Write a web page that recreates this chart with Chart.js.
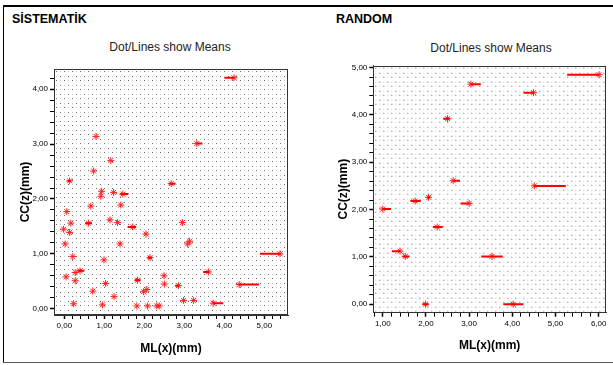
<!DOCTYPE html>
<html>
<head>
<meta charset="utf-8">
<script src="https://cdn.jsdelivr.net/npm/chart.js@4.4.1/dist/chart.umd.min.js"></script>
<style>
body { margin: 0; background: #fff; font-family: 'Liberation Sans', Arial, sans-serif; }
#wrap { position: relative; width: 613px; height: 365px; overflow: hidden; background: #fff; }
.line { position: absolute; }
.ptitle { position: absolute; font-weight: bold; font-size: 12.5px; line-height: 1; white-space: nowrap; }
.sub { position: absolute; font-size: 12px; line-height: 1; white-space: nowrap; transform: translateX(-50%); color: #222; }
canvas { position: absolute; top: 0; }
</style>
</head>
<body>
<div id="wrap">
    <div class="line" style="left:3px;top:5px;width:610px;height:2px;background:#000"></div>
    <div class="line" style="left:3px;top:5px;width:1px;height:358px;background:#000"></div>
    <div class="line" style="left:3px;top:362px;width:610px;height:1px;background:#555"></div>

    <div class="ptitle" style="left:12px;top:13.4px">SİSTEMATİK</div>
    <div class="ptitle" style="left:336px;top:12.8px">RANDOM</div>
    <div class="sub" style="left:170px;top:40.5px">Dot/Lines show Means</div>
    <div class="sub" style="left:491px;top:42.3px">Dot/Lines show Means</div>

    <canvas id="sisChart" width="306" height="362" style="left:0"></canvas>
    <canvas id="rndChart" width="307" height="362" style="left:306px"></canvas>
</div>

<script>
// SİSTEMATİK: stars
const sisX = [0.93, 0.91, 1.23, 1.46, 1.41, 0.66, 0.06, 0.16, 0.60, -0.02, 0.13, 1.14, 1.33, 1.71, 2.04, 0.02, 1.39, 0.21, 0.99, 2.14,
    0.27, 0.39, 0.04, 0.27, 1.03, 1.83, 2.49, 2.50, 0.71, 1.24, 1.98, 2.06, 0.23, 0.95, 1.81, 2.08, 2.31, 2.37,
    0.79, 1.16, 0.73, 0.13, 2.67, 4.24, 3.31, 2.95, 3.08, 3.13, 5.39, 3.60, 2.85, 4.37, 2.98, 3.23, 3.72];
const sisY = [2.14, 2.05, 2.12, 2.09, 1.89, 1.87, 1.77, 1.56, 1.56, 1.45, 1.39, 1.62, 1.57, 1.49, 1.36, 1.18, 1.18, 0.95, 0.89, 0.93,
    0.66, 0.69, 0.58, 0.51, 0.46, 0.52, 0.60, 0.45, 0.32, 0.22, 0.31, 0.35, 0.09, 0.07, 0.05, 0.05, 0.05, 0.05,
    3.14, 2.70, 2.51, 2.33, 2.28, 4.21, 3.01, 1.57, 1.18, 1.23, 1.00, 0.67, 0.42, 0.44, 0.15, 0.15, 0.10];
// SİSTEMATİK: mean lines
const sisLineY    = [2.09, 1.56, 1.49, 0.93, 0.69, 0.52, 2.28, 4.21, 3.01, 1.00, 0.67, 0.42, 0.44, 0.10, 2.33];
const sisLineFrom = [1.40, 0.52, 1.58, 2.08, 0.33, 1.76, 2.62, 4.00, 3.31, 4.89, 3.47, 2.77, 4.37, 3.72, 0.08];
const sisLineTo   = [1.60, 0.69, 1.79, 2.19, 0.50, 1.90, 2.78, 4.24, 3.45, 5.39, 3.62, 2.87, 4.87, 3.97, 0.16];

// RANDOM: stars + mean lines
const rndX = [6.01, 3.04, 4.49, 2.50, 2.63, 4.51, 1.00, 1.75, 2.06, 3.00, 2.26, 1.40, 1.52, 3.53, 1.99, 4.02];
const rndY = [4.85, 4.65, 4.47, 3.92, 2.61, 2.50, 2.01, 2.18, 2.26, 2.13, 1.63, 1.12, 1.01, 1.01, 0.00, 0.00];
const rndLineFrom = [5.27, 3.04, 4.26, 2.40, 2.63, 4.51, 1.00, 1.64, 2.03, 2.80, 2.16, 1.21, 1.46, 3.28, 1.92, 3.79];
const rndLineTo   = [6.01, 3.27, 4.49, 2.55, 2.79, 5.24, 1.19, 1.88, 2.10, 3.00, 2.39, 1.40, 1.62, 3.78, 2.06, 4.26];

// tick labels
const sisXTicks = [0, 1, 2, 3, 4, 5];
const sisXLabels = ['0,00', '1,00', '2,00', '3,00', '4,00', '5,00'];
const sisYTicks = [0, 1, 2, 3, 4];
const sisYLabels = ['0,00', '1,00', '2,00', '3,00', '4,00'];
const rndXTicks = [1, 2, 3, 4, 5, 6];
const rndXLabels = ['1,00', '2,00', '3,00', '4,00', '5,00', '6,00'];
const rndYTicks = [0, 1, 2, 3, 4, 5];
const rndYLabels = ['0,00', '1,00', '2,00', '3,00', '4,00', '5,00'];

const RED = '#ff0000';
const FONT = "'Liberation Sans', Arial, sans-serif";

function dotPattern(ctx) {
    const c = document.createElement('canvas');
    c.width = 8; c.height = 9;
    const p = c.getContext('2d');
    p.fillStyle = '#fff';
    p.fillRect(0, 0, 8, 9);
    p.fillStyle = '#666';
    p.fillRect(0, 0, 1, 1);
    p.fillRect(4, 5, 1, 1);
    p.fillStyle = '#cfcfcf';
    p.fillRect(4, 0, 1, 1);
    p.fillRect(0, 5, 1, 1);
    return ctx.createPattern(c, 'repeat');
}

const boxPlugin = {
    id: 'dotBox',
    beforeDatasetsDraw(chart) {
        const { ctx, chartArea: a } = chart;
        ctx.save();
        ctx.translate(a.left + 2, a.top + 2);
        ctx.fillStyle = dotPattern(ctx);
        ctx.fillRect(-1, -1, a.right - a.left - 2, a.bottom - a.top - 2);
        ctx.restore();
        ctx.save();
        ctx.strokeStyle = '#333';
        ctx.lineWidth = 1;
        ctx.strokeRect(Math.round(a.left) + 0.5, Math.round(a.top) + 0.5,
            Math.round(a.right - a.left) - 1, Math.round(a.bottom - a.top) - 1);
        ctx.restore();
    }
};

function minorTicks(from, to) {
    const out = [];
    for (let i = Math.round(from * 5); i <= Math.round(to * 5); i++) out.push(i / 5);
    return out;
}

function axis(min, max, majors, labels, minorFrom, minorTo, fitSize, title, horizontal) {
    const isMajor = v => majors.some(m => Math.abs(m - v) < 1e-6);
    return {
        type: 'linear',
        min: min,
        max: max,
        afterBuildTicks: s => { s.ticks = minorTicks(minorFrom, minorTo).map(v => ({ value: v })); },
        afterFit: s => { if (horizontal) s.height = fitSize; else s.width = fitSize; },
        grid: {
            drawOnChartArea: false,
            drawTicks: true,
            tickLength: 4,
            tickColor: '#000',
            tickWidth: c => (c.tick && isMajor(c.tick.value)) ? 1.5 : 1
        },
        border: { display: true, color: '#333' },
        ticks: {
            autoSkip: false,
            maxRotation: 0,
            padding: 2,
            color: '#000',
            font: { family: FONT, size: 8 },
            callback: v => {
                const i = majors.findIndex(m => Math.abs(m - v) < 1e-6);
                return i >= 0 ? labels[i] : '';
            }
        },
        title: {
            display: true,
            text: title,
            color: '#000',
            padding: 0,
            font: { family: FONT, size: 12, weight: 'bold' }
        }
    };
}

function buildPanel(id, xs, ys, lineY, lineFrom, lineTo, cfg) {
    const stars = xs.map((x, i) => ({ x: x, y: ys[i] }));
    const segs = [];
    lineY.forEach((y, i) => {
        segs.push({ x: lineFrom[i], y: y }, { x: lineTo[i], y: y }, { x: lineTo[i], y: null });
    });

    new Chart(document.getElementById(id), {
        type: 'scatter',
        data: {
            datasets: [{
                data: segs,
                showLine: true,
                spanGaps: false,
                borderColor: RED,
                borderWidth: 2,
                pointRadius: 0
            }, {
                data: stars,
                pointStyle: 'star',
                pointRadius: 3.5,
                borderColor: '#ff2020',
                borderWidth: 1,
                backgroundColor: RED
            }]
        },
        options: {
            responsive: false,
            animation: false,
            devicePixelRatio: 1,
            layout: { padding: cfg.padding },
            plugins: { legend: { display: false }, tooltip: { enabled: false } },
            scales: {
                x: axis(cfg.xMin, cfg.xMax, cfg.xTicks, cfg.xLabels, cfg.xMinorFrom, cfg.xMinorTo, cfg.xHeight, 'ML(x)(mm)', true),
                y: axis(cfg.yMin, cfg.yMax, cfg.yTicks, cfg.yLabels, cfg.yMinorFrom, cfg.yMinorTo, cfg.yWidth, 'CC(z)(mm)', false)
            }
        },
        plugins: [boxPlugin]
    });
}

buildPanel('sisChart', sisX, sisY, sisLineY, sisLineFrom, sisLineTo, {
    padding: { left: 18, top: 69, right: 18, bottom: 6.3 },
    xMin: -0.26, xMax: 5.59, yMin: -0.115, yMax: 4.37,
    xTicks: sisXTicks, xLabels: sisXLabels, yTicks: sisYTicks, yLabels: sisYLabels,
    xMinorFrom: 0, xMinorTo: 5.4, yMinorFrom: 0, yMinorTo: 4.2,
    xHeight: 40.7, yWidth: 36
});

buildPanel('rndChart', rndX, rndY, rndY, rndLineFrom, rndLineTo, {
    padding: { left: 30.8, top: 65.7, right: 7, bottom: 8.8 },
    xMin: 0.78, xMax: 6.17, yMin: -0.18, yMax: 5.04,
    xTicks: rndXTicks, xLabels: rndXLabels, yTicks: rndYTicks, yLabels: rndYLabels,
    xMinorFrom: 0.8, xMinorTo: 6.0, yMinorFrom: 0, yMinorTo: 5.0,
    xHeight: 40.5, yWidth: 36.5
});
</script>
</body>
</html>
